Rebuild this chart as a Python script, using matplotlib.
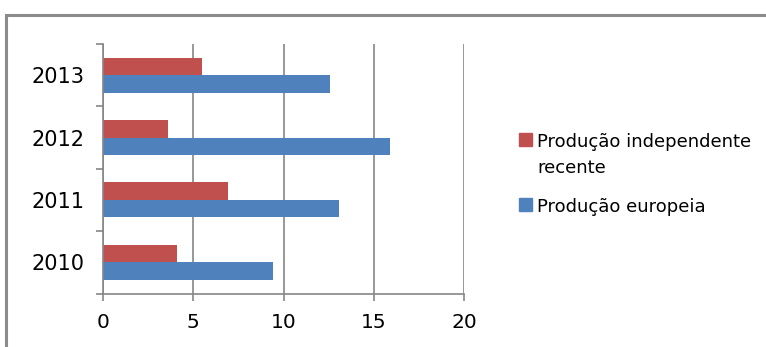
import matplotlib
matplotlib.use('Agg')
import matplotlib.pyplot as plt
from matplotlib.patches import Rectangle

# dados
anos = ['2010', '2011', '2012', '2013']
independente = [4.1, 6.9, 3.6, 5.5]
europeia = [9.4, 13.1, 15.9, 12.6]
serie_nomes = ['Produção independente\nrecente', 'Produção europeia']
xticks = [0, 5, 10, 15, 20]

vermelho = '#C0504D'
azul = '#4F81BD'
cinza = '#868686'

plt.rcParams['font.family'] = ['DejaVu Sans']

W, H = 766, 347
fig = plt.figure(figsize=(W / 100, H / 100), dpi=100)

# moldura exterior
fig.patches.append(Rectangle((6 / W, -0.1), 1.2, 1 - 15.5 / H + 0.1,
                             transform=fig.transFigure, fill=False,
                             edgecolor='#8C8C8C', linewidth=2.2))

ax = fig.add_axes([103 / W, (H - 293.5) / H, (464 - 103) / W, (293.5 - 44) / H])

pos = range(len(anos))
h = 0.28
ax.barh([p + 0.14 for p in pos], independente, height=h, color=vermelho)
ax.barh([p - 0.14 for p in pos], europeia, height=h, color=azul)

ax.set_xlim(0, 20)
ax.set_ylim(-0.5, len(anos) - 0.5)
ax.set_xticks(xticks)
ax.set_xticklabels([str(t) for t in xticks], fontsize=14.5)
ax.set_yticks(list(pos))
ax.set_yticklabels(anos, fontsize=15)
ax.set_yticks([p - 0.5 for p in range(len(anos) + 1)], minor=True)
ax.tick_params(axis='y', which='major', length=0, pad=13)
ax.tick_params(axis='y', which='minor', length=5, color=cinza, width=1.2)
ax.tick_params(axis='x', length=5, color=cinza, width=1.2, pad=9)

ax.grid(axis='x', color=cinza, linewidth=1.2)
ax.set_axisbelow(True)
for s in ['top', 'right']:
    ax.spines[s].set_visible(False)
for s in ['left', 'bottom']:
    ax.spines[s].set_color(cinza)
    ax.spines[s].set_linewidth(1.2)

# legenda (quadrado alinhado com a primeira linha do texto)
leg_y = [133, 198]
for cor, nome, y in zip([vermelho, azul], serie_nomes, leg_y):
    fig.patches.append(Rectangle((519 / W, 1 - (y + 13) / H), 13 / W, 13 / H,
                                 transform=fig.transFigure, color=cor))
    for i, linha in enumerate(nome.split('\n')):
        fig.text(537 / W, 1 - (y + 14 + 26 * i) / H, linha, fontsize=13,
                 va='baseline', ha='left')

fig.savefig('out.png', dpi=100)
